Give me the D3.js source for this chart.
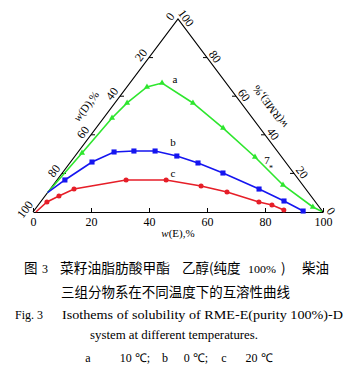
<!DOCTYPE html>
<html><head><meta charset="utf-8">
<script src="https://cdn.jsdelivr.net/npm/d3@7"></script>
<style>body{margin:0;background:#fff}svg{display:block}</style>
</head><body>
<svg id="c" width="354" height="373"></svg>
<script>
// ---- data (E = w(E)%, R = w(RME)%, D = 100-E-R) ----
const tickValues = [0, 20, 40, 60, 80, 100];
// curve a: 10 ℃
const aE = [1.6, 2.9, 4.2, 6.9, 11.1, 26.9, 43.8, 62.3, 79.2, 95.2];
const aR = [30.6, 48.7, 56.5, 64.8, 66.8, 56.5, 43.5, 28.5, 14.0, 2.6];
// curve b: 0 ℃
const bE = [2.7, 7.4, 12.4, 19.0, 26.3, 35.1, 44.2, 55.4, 72.0, 83.7, 92.9];
const bR = [16.6, 25.9, 31.1, 31.6, 31.6, 29.0, 25.4, 20.2, 11.9, 5.7, 0.5];
// curve c: 20 ℃
const cE = [2.2, 4.8, 8.2, 23.8, 37.6, 51.2, 61.7, 75.3, 80.6, 86.0];
const cR = [5.2, 8.3, 11.9, 16.6, 16.6, 13.5, 10.4, 5.2, 3.6, 1.0];
// line end points (no marker)
const aEnds = [[0, 10], [99.5, 0.3]];
const bEnds = [[0, 10], null];
const cEnds = [[1.0, 0], null];

const svg = d3.select("#c");
const x = d3.scaleLinear().domain([0, 100]).range([33, 323]);
const y = d3.scaleLinear().domain([0, 100]).range([212, 19]);
const P = (E, R) => [x(E + R / 2), y(R)];
const serif = "'Liberation Serif','Times New Roman',serif";
const cjk = "'Noto Sans CJK SC',sans-serif";

// triangle edges
const tri = [P(0, 0), P(0, 100), P(100, 0)];
svg.append("path").attr("d", d3.line()([tri[0], tri[1], tri[2]]))
  .attr("fill", "none").attr("stroke", "#000").attr("stroke-width", 1.2);

// bottom axis
const ax = svg.append("g").attr("transform", "translate(0,212)")
  .call(d3.axisBottom(x).tickValues(tickValues).tickSizeInner(-4).tickSizeOuter(0).tickPadding(5));
ax.select(".domain").attr("stroke-width", 1.2);
ax.selectAll("text").attr("font-family", serif).attr("font-size", 12).attr("fill", "#000");

// left edge (D): D=100 at bottom-left, 0 at apex
tickValues.forEach(d => {
  const [px, py] = P(0, 100 - d);
  if (d > 0 && d < 100) svg.append("line").attr("x1", px).attr("y1", py).attr("x2", px + 4).attr("y2", py).attr("stroke", "#000");
  svg.append("text").attr("transform", `translate(${px - 8},${py - 2.5}) rotate(-53)`)
    .attr("text-anchor", "middle").attr("dominant-baseline", "central")
    .attr("font-family", serif).attr("font-size", 12).text(d);
});
// right edge (RME): 0 at bottom-right, 100 at apex
tickValues.forEach(r => {
  const [px, py] = P(100 - r, r);
  if (r > 0 && r < 100) svg.append("line").attr("x1", px).attr("y1", py).attr("x2", px - 4).attr("y2", py).attr("stroke", "#000");
  svg.append("text").attr("transform", `translate(${px + 8},${py - 1}) rotate(53)`)
    .attr("text-anchor", "middle").attr("dominant-baseline", "central")
    .attr("font-family", serif).attr("font-size", 12).text(r);
});

// axis titles
svg.append("text").attr("transform", "translate(86,106) rotate(-53)").attr("text-anchor", "middle")
  .attr("dominant-baseline", "central").attr("font-family", serif).attr("font-size", 11)
  .html('<tspan font-style="italic">w</tspan>(D),%');
svg.append("text").attr("transform", "translate(270,107) rotate(-127)").attr("text-anchor", "middle")
  .attr("dominant-baseline", "central").attr("font-family", serif).attr("font-size", 11)
  .html('<tspan font-style="italic">w</tspan>(RME),%');
svg.append("text").attr("x", 178).attr("y", 237).attr("text-anchor", "middle")
  .attr("font-family", serif).attr("font-size", 11)
  .html('<tspan font-style="italic">w</tspan>(E),%');

// curves
const series = [
  {E: aE, R: aR, ends: aEnds, color: "#2ee62e", shape: d3.symbolTriangle, size: 16},
  {E: bE, R: bR, ends: bEnds, color: "#1515f0", shape: d3.symbolSquare, size: 26},
  {E: cE, R: cR, ends: cEnds, color: "#e61e28", shape: d3.symbolCircle, size: 20}
];
series.forEach(s => {
  const pts = s.E.map((e, i) => P(e, s.R[i]));
  const linePts = pts.slice();
  if (s.ends[0]) linePts.unshift(P(s.ends[0][0], s.ends[0][1]));
  if (s.ends[1]) linePts.push(P(s.ends[1][0], s.ends[1][1]));
  svg.append("path").attr("d", d3.line()(linePts)).attr("fill", "none")
    .attr("stroke", s.color).attr("stroke-width", 1.6);
  svg.selectAll(null).data(pts).enter().append("path")
    .attr("transform", d => `translate(${d[0]},${d[1]})`)
    .attr("d", d3.symbol().type(s.shape).size(s.size)).attr("fill", s.color);
});

// curve labels
[["a", 175, 79], ["b", 173, 142], ["c", 173, 173]].forEach(([t, lx, ly]) =>
  svg.append("text").attr("x", lx).attr("y", ly).attr("text-anchor", "middle")
    .attr("dominant-baseline", "central").attr("font-family", serif).attr("font-size", 11).text(t));
svg.append("text").attr("x", 267).attr("y", 160).attr("text-anchor", "middle")
  .attr("dominant-baseline", "central").attr("font-family", serif).attr("font-size", 11).text("7");
svg.append("text").attr("x", 271).attr("y", 168).attr("text-anchor", "middle")
  .attr("dominant-baseline", "central").attr("font-family", serif).attr("font-size", 8).text("*");

// caption
const cap = (t, cx, cy, fam, fs, anchor, len) => {
  const el = svg.append("text").attr("x", cx).attr("y", cy).attr("font-family", fam)
    .attr("font-size", fs).attr("text-anchor", anchor || "start").text(t);
  if (len) el.attr("textLength", len).attr("lengthAdjust", "spacingAndGlyphs");
  return el;
};
cap("图", 24, 273, cjk, 13.5);
cap("3", 42, 273, serif, 12);
cap("菜籽油脂肪酸甲酯", 60, 273, cjk, 13.5, "start", 110);
cap("乙醇", 182, 273, cjk, 13.5);
cap("(纯度", 209, 273, cjk, 13.5);
cap("100%", 248, 273, serif, 11, "start", 28);
cap(")", 281, 273, cjk, 13.5);
cap("柴油", 302, 273, cjk, 13.5);
cap("三组分物系在不同温度下的互溶性曲线", 61, 297, cjk, 13.5, "start", 229);
cap("Fig. 3", 15, 319, serif, 12);
cap("Isothems of solubility of RME-E(purity 100%)-D", 62, 319, serif, 12, "start", 281);
cap("system  at different temperatures.", 174, 339, serif, 12, "middle", 168);
cap("a", 88, 362, serif, 12, "middle");
cap("10 ℃;", 135, 362, serif, 12, "middle");
cap("b", 165, 362, serif, 12, "middle");
cap("0 ℃;", 196, 362, serif, 12, "middle");
cap("c", 224, 362, serif, 12, "middle");
cap("20 ℃", 259, 362, serif, 12, "middle");
</script>
</body></html>
